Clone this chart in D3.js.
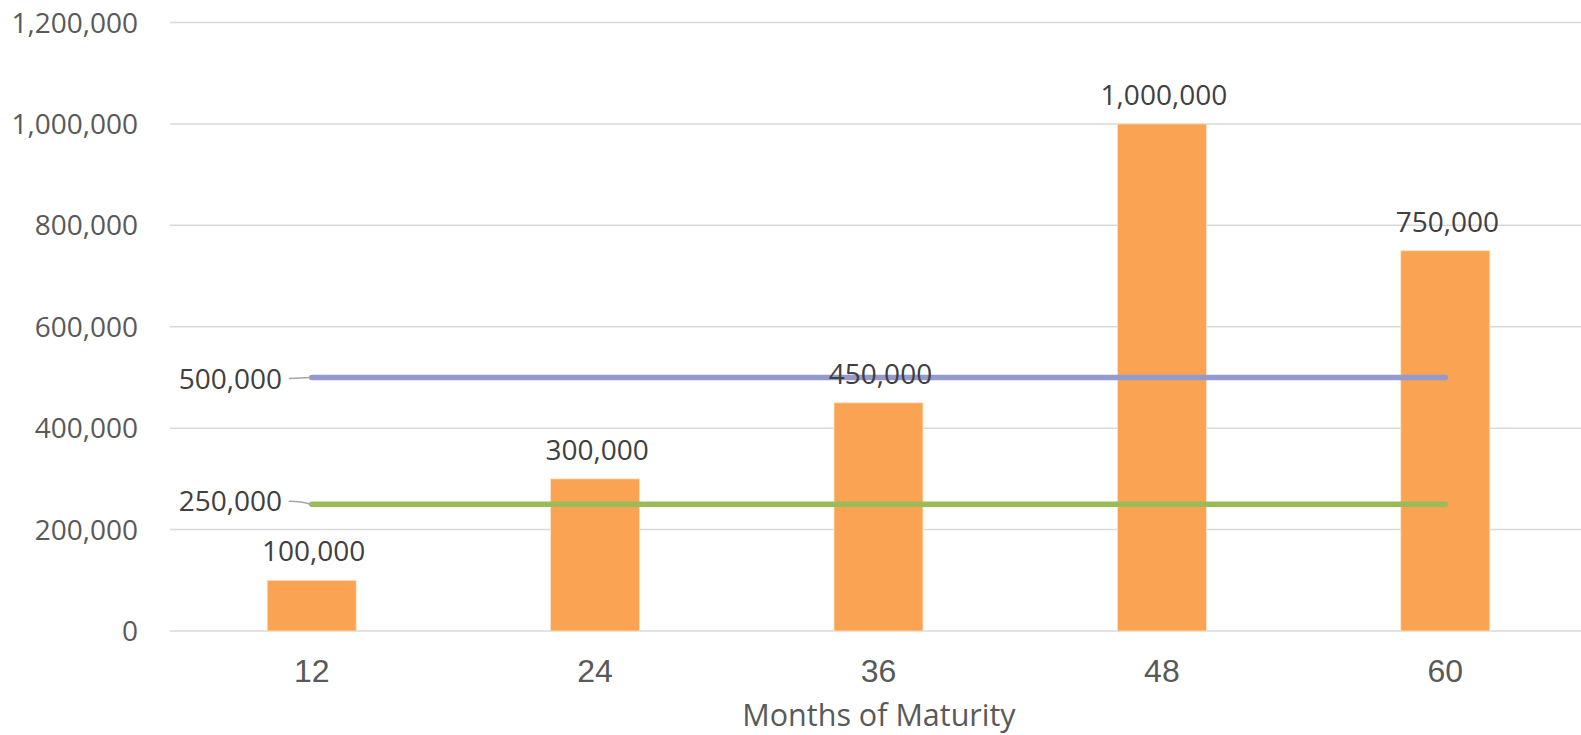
<!DOCTYPE html>
<html>
<head>
<meta charset="utf-8">
<script src="https://cdn.jsdelivr.net/npm/d3@7"></script>
<style>
  html, body { margin: 0; padding: 0; background: #fff; }
  svg { display: block; }
</style>
</head>
<body>
<svg id="chart" width="1581" height="735"></svg>
<script>
// Maturity buckets (months) and the amount maturing in each
const categories = ["12", "24", "36", "48", "60"];
const amounts = [100000, 300000, 450000, 1000000, 750000];

// Horizontal reference levels drawn across the categories
const refLevels = [500000, 250000];
const refColors = ["#959ACE", "#9BBB59"];

// Y axis ticks
const yTicks = [0, 200000, 400000, 600000, 800000, 1000000, 1200000];

const xTitle = "Months of Maturity";

const W = 1581, H = 735;
const plotLeft = 170, plotRight = 1587, plotTop = 22.5, plotBottom = 631;

const svg = d3.select("#chart");
const fmt = d3.format(",");

const x = d3.scaleBand().domain(categories).range([plotLeft, plotRight]).padding(0);
const y = d3.scaleLinear().domain([0, 1200000]).range([plotBottom, plotTop]);
const barW = x.bandwidth() * 0.314;
const cx = c => x(c) + x.bandwidth() / 2;

// Gridlines
svg.append("g").selectAll("line").data(yTicks).join("line")
  .attr("x1", plotLeft).attr("x2", W)
  .attr("y1", d => y(d)).attr("y2", d => y(d))
  .attr("stroke", "#d9d9d9").attr("stroke-width", 1.5);

// Y tick labels
svg.append("g").selectAll("text").data(yTicks).join("text")
  .attr("x", 138).attr("y", d => y(d))
  .attr("dy", "0.36em")
  .attr("text-anchor", "end")
  .attr("font-family", "'Open Sans', sans-serif")
  .attr("font-size", 28)
  .attr("fill", "#595959")
  .text(d => fmt(d));

// Bars
svg.append("g").selectAll("rect").data(categories).join("rect")
  .attr("x", (d) => cx(d) - barW / 2)
  .attr("width", barW)
  .attr("y", (d, i) => y(amounts[i]))
  .attr("height", (d, i) => y(0) - y(amounts[i]))
  .attr("fill", "#F9A353")
  .attr("stroke", "#fde3c8").attr("stroke-width", 0.8);

// Reference lines across the first to last category centre
const first = categories[0], last = categories[categories.length - 1];
svg.append("g").selectAll("line").data(refLevels).join("line")
  .attr("x1", cx(first)).attr("x2", cx(last))
  .attr("y1", d => y(d)).attr("y2", d => y(d))
  .attr("stroke", (d, i) => refColors[i])
  .attr("stroke-width", 5.5)
  .attr("stroke-linecap", "round");

// Reference line labels with short leader lines
refLevels.forEach((v, i) => {
  const ly = y(v);
  const labelY = i === 0 ? ly + 1 : ly - 3;
  svg.append("text")
    .attr("x", 282).attr("y", labelY)
    .attr("dy", "0.36em")
    .attr("text-anchor", "end")
    .attr("font-family", "'Open Sans', sans-serif")
    .attr("font-size", 28)
    .attr("fill", "#404040")
    .text(fmt(v));
  const p = d3.path();
  p.moveTo(289, labelY);
  if (i === 0) {
    p.lineTo(cx(first) - 1, ly);
  } else {
    p.quadraticCurveTo(302, labelY, cx(first) - 1, ly);
  }
  svg.append("path").attr("d", p.toString())
    .attr("fill", "none").attr("stroke", "#a6a6a6").attr("stroke-width", 1.5);
});

// Value labels above bars
svg.append("g").selectAll("text").data(categories).join("text")
  .attr("x", d => cx(d) + 2)
  .attr("y", (d, i) => y(amounts[i]) - 19)
  .attr("text-anchor", "middle")
  .attr("font-family", "'Open Sans', sans-serif")
  .attr("font-size", 28)
  .attr("fill", "#404040")
  .text((d, i) => fmt(amounts[i]));

// X tick labels
svg.append("g").selectAll("text").data(categories).join("text")
  .attr("x", d => cx(d))
  .attr("y", 682)
  .attr("text-anchor", "middle")
  .attr("font-family", "'Liberation Sans', Arial, sans-serif")
  .attr("font-size", 32)
  .attr("fill", "#595959")
  .text(d => d);

// X axis title
svg.append("text")
  .attr("x", 879).attr("y", 726)
  .attr("text-anchor", "middle")
  .attr("font-family", "'Open Sans', sans-serif")
  .attr("font-size", 30.5)
  .attr("fill", "#595959")
  .text(xTitle);
</script>
</body>
</html>
